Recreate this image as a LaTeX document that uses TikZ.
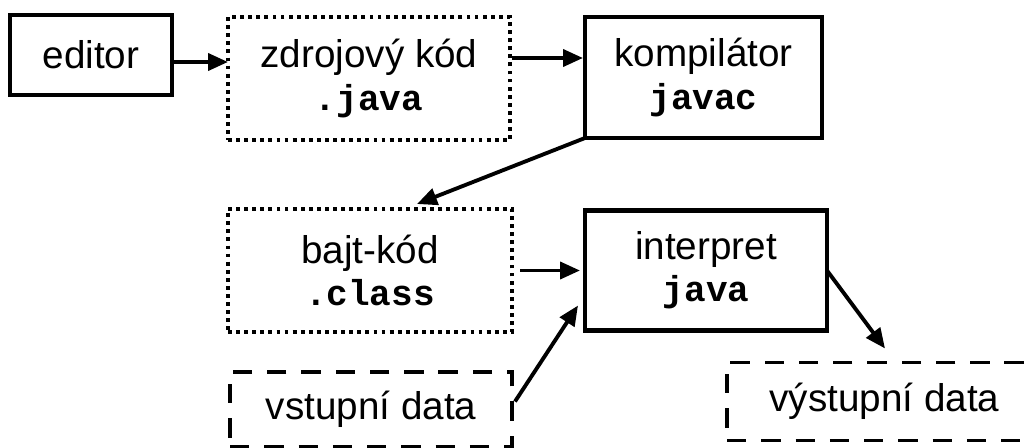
\documentclass[tikz,border=0pt]{standalone}
\usepackage{fontspec}
\setmainfont{Liberation Sans}
\newfontfamily\codefont{Liberation Mono}
\usetikzlibrary{positioning, arrows.meta}
\tikzset{>={Triangle[length=0.4cm, width=0.34cm]}}
\tikzset{tool/.style={draw, line width=2.8pt, align=center, inner sep=0pt, outer sep=0pt}}
\tikzset{file/.style={draw, line width=2.2pt, dash pattern=on 2.2pt off 2.4pt, align=center, inner sep=0pt, outer sep=0pt}}
\tikzset{io data/.style={draw, line width=2.2pt, dash pattern=on 11pt off 8.5pt, align=center, inner sep=0pt, outer sep=0pt}}
\tikzset{flow/.style={->, line width=2.2pt}}
\newcommand{\code}[1]{{\codefont\bfseries\fontsize{20.5}{24}\selectfont #1}}

\begin{document}
\begin{tikzpicture}[font=\fontsize{22}{24}\selectfont]
    \useasboundingbox (0,0) rectangle (20.64,-8.96);

    \node[tool, minimum width=3.24cm, minimum height=1.6cm, anchor=north west] (editor) at (0.2,-0.3) {editor};

    \node[file, minimum width=5.64cm, minimum height=2.46cm, right=1.12cm of editor.north east, anchor=north west, yshift=-0.04cm] (zdroj)
    {zdrojový kód\\\code{.java}};

    \node[tool, minimum width=4.74cm, minimum height=2.42cm, right=1.5cm of zdroj.north east, anchor=north west] (kompilator)
    {kompilátor\\\code{javac}};

    \node[file, minimum width=5.68cm, minimum height=2.46cm, below=1.38cm of zdroj.south west, anchor=north west] (bajt)
    {bajt-kód\\\code{.class}};

    \node[tool, minimum width=4.84cm, minimum height=2.4cm, right=1.46cm of bajt] (interpret)
    {interpret\\\code{java}};

    \node[io data, minimum width=5.64cm, minimum height=1.5cm, below=0.8cm of bajt.south west, anchor=north west, xshift=0.04cm] (vstup) {vstupní data};

    \node[io data, minimum width=6.3cm, minimum height=1.56cm, below right=0.64cm and 2.84cm of interpret.south west] (vystup) {výstupní data};

    \draw [flow] ([yshift=-0.14cm]editor.east) to ([yshift=0.33cm]zdroj.west);
    \draw [flow, shorten <=0.04cm, shorten >=0.04cm] ([yshift=0.41cm]zdroj.east) to ([yshift=0.39cm]kompilator.west);
    \draw [flow] (kompilator.south west) to ([xshift=0.94cm, yshift=0.1cm]bajt.north);
    \draw [flow, shorten <=0.16cm, shorten >=0.1cm] (bajt.east) to (interpret.west);
    \draw [flow] ([xshift=0.06cm, yshift=0.16cm]vstup.east) to ([xshift=-0.14cm, yshift=-0.7cm]interpret.west);
    \draw [flow] (interpret.east) to ([xshift=0.01cm, yshift=0.28cm]vystup.north);
\end{tikzpicture}
\end{document}
